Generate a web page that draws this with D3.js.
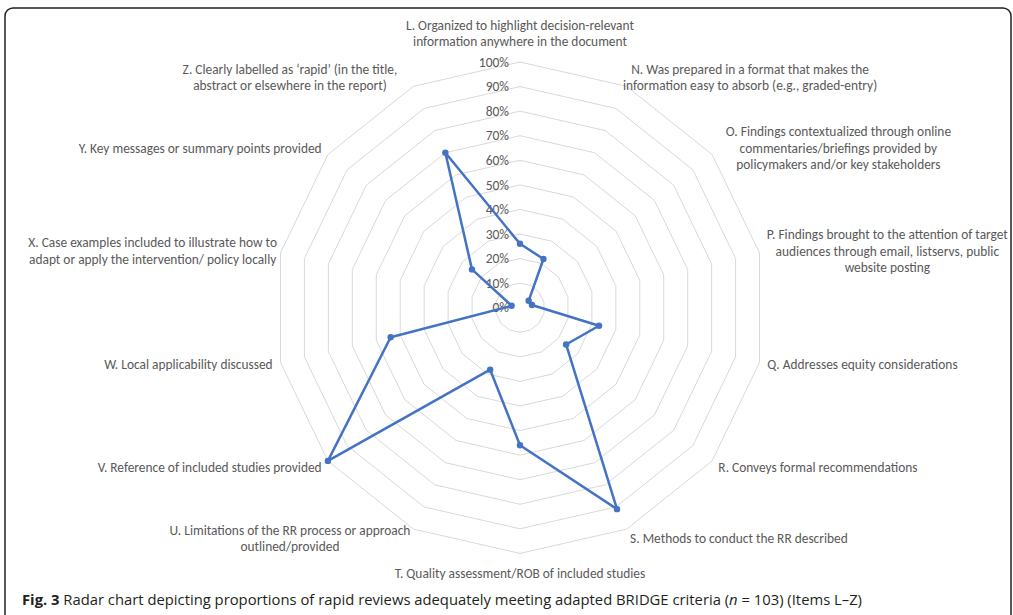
<!DOCTYPE html>
<html>
<head>
<meta charset="utf-8">
<script src="https://cdnjs.cloudflare.com/ajax/libs/d3/7.8.5/d3.min.js"></script>
<style>
  body { margin: 0; background: #fff; }
  svg { display: block; }
</style>
</head>
<body>
<div id="chart"></div>
<script>
const categories = [
    ["L. Organized to highlight decision-relevant", "information anywhere in the document"],
    ["N. Was prepared in a format that makes the", "information easy to absorb (e.g., graded-entry)"],
    ["O. Findings contextualized through online", "commentaries/briefings provided by", "policymakers and/or key stakeholders"],
    ["P. Findings brought to the attention of target", "audiences through email, listservs, public", "website posting"],
    ["Q. Addresses equity considerations"],
    ["R. Conveys formal recommendations"],
    ["S. Methods to conduct the RR described"],
    ["T. Quality assessment/ROB of included studies"],
    ["U. Limitations of the RR process or approach", "outlined/provided"],
    ["V. Reference of included studies provided"],
    ["W. Local applicability discussed"],
    ["X. Case examples included to illustrate how to", "adapt or apply the intervention/ policy locally"],
    ["Y.  Key messages or summary points provided"],
    ["Z.    Clearly labelled as \u2018rapid\u2019 (in the title,", "abstract or elsewhere in the report)"]
];
const values = [0.26, 0.22, 0.045, 0.05, 0.33, 0.24, 0.91, 0.56, 0.28, 1.00, 0.54, 0.035, 0.25, 0.70];
const ticks = [0, 0.1, 0.2, 0.3, 0.4, 0.5, 0.6, 0.7, 0.8, 0.9, 1.0];

const width = 1013, height = 615;
const cx = 520, cy = 307.7, radius = 245.7;
const font = "Carlito, Lato, 'Open Sans', sans-serif";
const textColor = "#595959";

const svg = d3.select("#chart").append("svg")
    .attr("width", width)
    .attr("height", height);

// frame
svg.append("rect")
    .attr("x", 5).attr("y", 8)
    .attr("width", 1006).attr("height", 640)
    .attr("rx", 8)
    .attr("fill", "none")
    .attr("stroke", "#222")
    .attr("stroke-width", 1.5);

const n = categories.length;
const angle = d3.scaleLinear().domain([0, n]).range([0, 2 * Math.PI]);
const r = d3.scaleLinear().domain([0, 1]).range([0, radius]);

const g = svg.append("g").attr("transform", `translate(${cx},${cy})`);

const radial = d3.lineRadial()
    .angle((d, i) => angle(i))
    .radius(d => r(d))
    .curve(d3.curveLinearClosed);

// grid polygons
g.selectAll(".grid")
    .data(ticks.slice(1))
    .enter()
    .append("path")
    .attr("d", t => radial(d3.range(n).map(() => t)))
    .attr("fill", "none")
    .attr("stroke", "#d9d9d9")
    .attr("stroke-width", 1);

// tick labels
g.selectAll(".tick")
    .data(ticks)
    .enter()
    .append("text")
    .attr("x", -11)
    .attr("y", t => -r(t))
    .attr("dy", "0.35em")
    .attr("text-anchor", "end")
    .attr("fill", textColor)
    .style("font-family", font)
    .style("font-size", "13.5px")
    .text(t => d3.format(".0%")(t));

// series
g.append("path")
    .attr("d", radial(values))
    .attr("fill", "none")
    .attr("stroke", "#4472c4")
    .attr("stroke-width", 2.5)
    .attr("stroke-linejoin", "round");

g.selectAll(".dot")
    .data(values)
    .enter()
    .append("circle")
    .attr("cx", (d, i) => r(d) * Math.sin(angle(i)))
    .attr("cy", (d, i) => -r(d) * Math.cos(angle(i)))
    .attr("r", 3.2)
    .attr("fill", "#4472c4");

// category labels (wrapped labels sit in a fixed-width box, text centred)
const lineH = 16.5;
const wrapBox = 240;
categories.forEach((lines, i) => {
    const a = angle(i);
    const s = Math.sin(a), c = Math.cos(a);
    const lr = radius + 8;
    const px = lr * s;
    const lg = g.append("g");
    const t = lg.append("text")
        .attr("fill", textColor)
        .attr("text-anchor", "middle")
        .style("font-family", font)
        .style("font-size", "13.4px");
    lines.forEach((ln, j) => {
        t.append("tspan")
            .attr("x", 0)
            .attr("y", (j - (lines.length - 1) / 2) * lineH)
            .attr("dy", "0.35em")
            .text(ln);
    });
    const w = lines.length > 1 ? wrapBox : t.node().getBBox().width;
    const h = lines.length * lineH;
    let ox = px;
    if (s > 0.1) ox = px + w / 2;
    else if (s < -0.1) ox = px - w / 2;
    let oy;
    if (Math.abs(s) < 0.1) oy = -radius * c - c * (h / 2 + 12);
    else oy = -radius * c - c * 10;
    lg.attr("transform", `translate(${ox},${oy})`);
});

// caption
const cap = svg.append("text")
    .attr("x", 22)
    .attr("y", 605)
    .attr("fill", "#231f20")
    .attr("textLength", 840)
    .attr("lengthAdjust", "spacingAndGlyphs")
    .style("font-family", "'Liberation Sans Narrow', 'Open Sans', sans-serif")
    .style("font-size", "14px");
cap.append("tspan").attr("font-weight", "bold").text("Fig. 3");
cap.append("tspan").text(" Radar chart depicting proportions of rapid reviews adequately meeting adapted BRIDGE criteria (");
cap.append("tspan").attr("font-style", "italic").text("n");
cap.append("tspan").text(" = 103) (Items L\u2013Z)");
</script>
</body>
</html>
